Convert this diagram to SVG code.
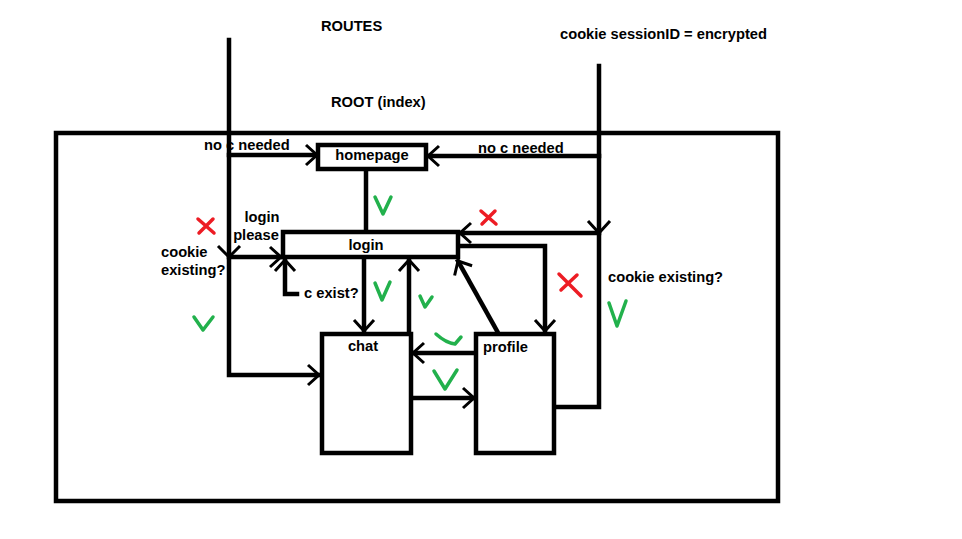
<svg xmlns="http://www.w3.org/2000/svg" width="962" height="539" viewBox="0 0 962 539">
<style>
text{font-family:"Liberation Sans",Arial,sans-serif;font-weight:bold;font-size:14.7px;fill:#000}
.c{text-anchor:middle}
.box{fill:#fff;stroke:#000;stroke-width:4.5}
.ln{fill:none;stroke:#000;stroke-width:4.5;stroke-linecap:square}
.ah{fill:none;stroke:#000;stroke-width:3}
.ok{fill:none;stroke:#22b14c;stroke-width:3.5;stroke-linecap:round;stroke-linejoin:round}
.no{fill:none;stroke:#ed1c24;stroke-width:3.5;stroke-linecap:round}
</style>
<defs>
<marker id="arr" markerUnits="userSpaceOnUse" markerWidth="30" markerHeight="30" viewBox="-15 -15 30 30" refX="0" refY="0" orient="auto">
<path d="M-11,-10 L0,0 L-11,10" fill="none" stroke="#000" stroke-width="3"/>
</marker>
</defs>
<rect x="56" y="133" width="722" height="368" fill="none" stroke="#000" stroke-width="4.5"/>
<text x="321" y="31">ROUTES</text>
<text x="331" y="107">ROOT (index)</text>
<text x="560" y="39">cookie sessionID = encrypted</text>
<g id="connectors">
<path class="ln" d="M229,40 V375 H319" marker-end="url(#arr)"/>
<path class="ah" d="M218,246 L229,257 L240,246"/>
<path class="ln" d="M229,155 H317" marker-end="url(#arr)"/>
<path class="ln" d="M229,257 H281" marker-end="url(#arr)"/>
<path class="ln" d="M297,294 H285 V260" marker-end="url(#arr)"/>
<path class="ln" d="M366,169 V232"/>
<path class="ln" d="M364,258 V331" marker-end="url(#arr)"/>
<path class="ln" d="M409,340 V260" marker-end="url(#arr)"/>
<path class="ln" d="M497,331 L458,261" marker-end="url(#arr)"/>
<path class="ln" d="M476,353 H413" marker-end="url(#arr)"/>
<path class="ln" d="M411,398 H474" marker-end="url(#arr)"/>
<path class="ln" d="M599,66 V407 H556"/>
<path class="ah" d="M588,221 L599,233 L610,221"/>
<path class="ln" d="M599,156 H428" marker-end="url(#arr)"/>
<path class="ln" d="M599,233 H460" marker-end="url(#arr)"/>
<path class="ln" d="M459,246 H545 V331" marker-end="url(#arr)"/>
</g>
<g id="homepage"><rect class="box" x="318" y="145" width="108" height="24"/><text class="c" x="372" y="160">homepage</text></g>
<g id="login"><rect class="box" x="283" y="232" width="175" height="25"/><text class="c" x="366" y="250">login</text></g>
<g id="chat"><rect class="box" x="322" y="334" width="89" height="119"/><text class="c" x="363" y="351">chat</text></g>
<g id="profile"><rect class="box" x="476" y="334" width="78" height="119"/><text x="483" y="352">profile</text></g>
<g id="labels">
<text x="204" y="150">no c needed</text>
<text x="478" y="153">no c needed</text>
<text class="c" x="262" y="222">login</text>
<text class="c" x="256" y="240">please</text>
<text x="161" y="257">cookie</text>
<text x="161" y="275">existing?</text>
<text x="304" y="298">c exist?</text>
<text x="608" y="282">cookie existing?</text>
</g>
<g id="marks">
<path class="ok" d="M375,197 L383,214 L391,197"/>
<path class="ok" d="M375,283 L382,300 L390,282"/>
<path class="ok" d="M420,296 L425,307 L432,297"/>
<path class="ok" d="M436,334 Q446,343 455,344 L461,337"/>
<path class="ok" d="M434,371 L445,389 L457,370"/>
<path class="ok" d="M194,317 L203,330 L213,317"/>
<path class="ok" d="M609,303 L617,326 L626,301"/>
<path class="no" d="M198,219 L214,233 M213,219 L199,233"/>
<path class="no" d="M481,211 L496,224 M495,211 L482,224"/>
<path class="no" d="M559,274 L581,296 M577,275 L561,290"/>
</g>
</svg>
